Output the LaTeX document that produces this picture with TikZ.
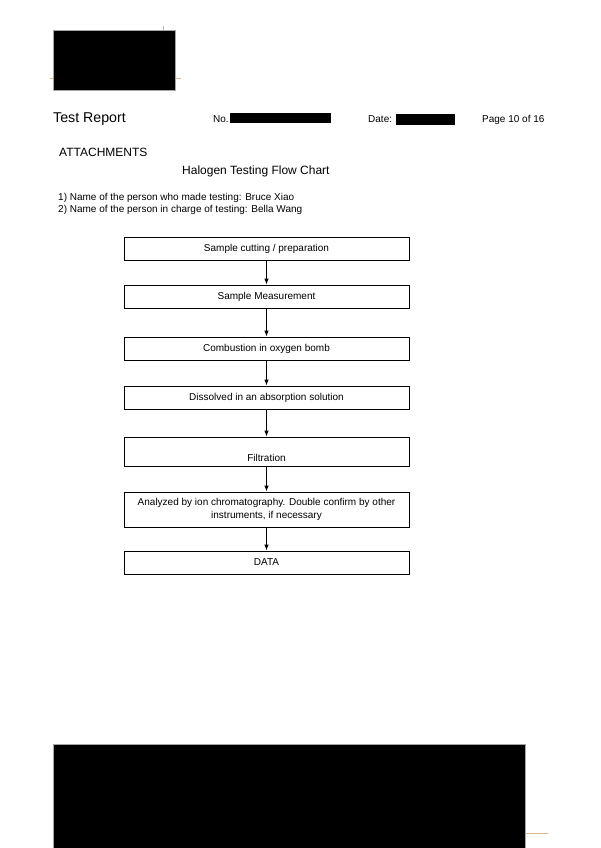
\documentclass[tikz,border=0pt]{standalone}
\usepackage{fontspec}
\setmainfont{Liberation Sans}
\usetikzlibrary{arrows.meta}
\definecolor{tickorange}{RGB}{215,185,150}
\begin{document}
\begin{tikzpicture}[x=1pt,y=-1pt,
  stepbox/.style={draw,line width=0.8pt,minimum width=285pt,minimum height=23pt,inner sep=1pt,align=center,font=\fontsize{10}{13.5}\selectfont},
  hdr/.style={anchor=base west,inner sep=0pt,font=\fontsize{10}{12}\selectfont},
  tick/.style={draw=tickorange,line width=0.5pt}]
  \useasboundingbox[fill=white] (0,0) rectangle (600,848);
  % redacted logo and footer
  \fill[draw=gray!70] (53,30) rectangle (175,90);
  \draw[tick] (163,26)--(163,30);
  \draw[tick] (175,78)--(181,78);
  \draw[tick] (50,78)--(53,78);
  \fill[draw=gray!70] (53,744) rectangle (525,848);
  \draw[tick] (525,833)--(548,833);
  % header line
  \node[hdr,font=\fontsize{14.2}{16}\selectfont] (report) at (53,122) {Test Report};
  \node[hdr] (no) at (213,122) {No.};
  \fill (230,113) rectangle (331,123);
  \node[hdr] (date) at (368,122) {Date:};
  \fill (396,114) rectangle (455,125);
  \node[hdr] (page) at (482,122) {Page 10 of 16};
  \node[hdr,font=\fontsize{12}{14}\selectfont] (attach) at (59,157) {ATTACHMENTS};
  \node[hdr,font=\fontsize{12}{14}\selectfont] (chart) at (182,174) {Halogen Testing Flow Chart};
  \node[hdr] (tester) at (58,200) {1) Name of the person who made testing: Bruce Xiao};
  \node[hdr] (incharge) at (58,212) {2) Name of the person in charge of testing: Bella Wang};
  % flow chart
  \node[stepbox] (cut) at (266.5,248.5) {Sample cutting / preparation};
  \node[stepbox] (meas) at (266.5,296.5) {Sample Measurement};
  \node[stepbox] (comb) at (266.5,348.5) {Combustion in oxygen bomb};
  \node[stepbox] (diss) at (266.5,397.5) {Dissolved in an absorption solution};
  \node[stepbox,minimum height=29pt,text height=19pt,text depth=0pt] (filt) at (266.5,451.5) {Filtration};
  \node[stepbox,minimum height=35pt] (ion) at (266.5,509.5) {Analyzed by ion chromatography. Double confirm by other\\instruments, if necessary};
  \node[stepbox] (data) at (266.5,562.5) {DATA};
  \foreach \a/\b in {cut/meas,meas/comb,comb/diss,diss/filt,filt/ion,ion/data}
    \draw[-{Latex[length=6pt,width=4.5pt]},line width=0.9pt] (\a)--(\b);
\end{tikzpicture}
\end{document}
